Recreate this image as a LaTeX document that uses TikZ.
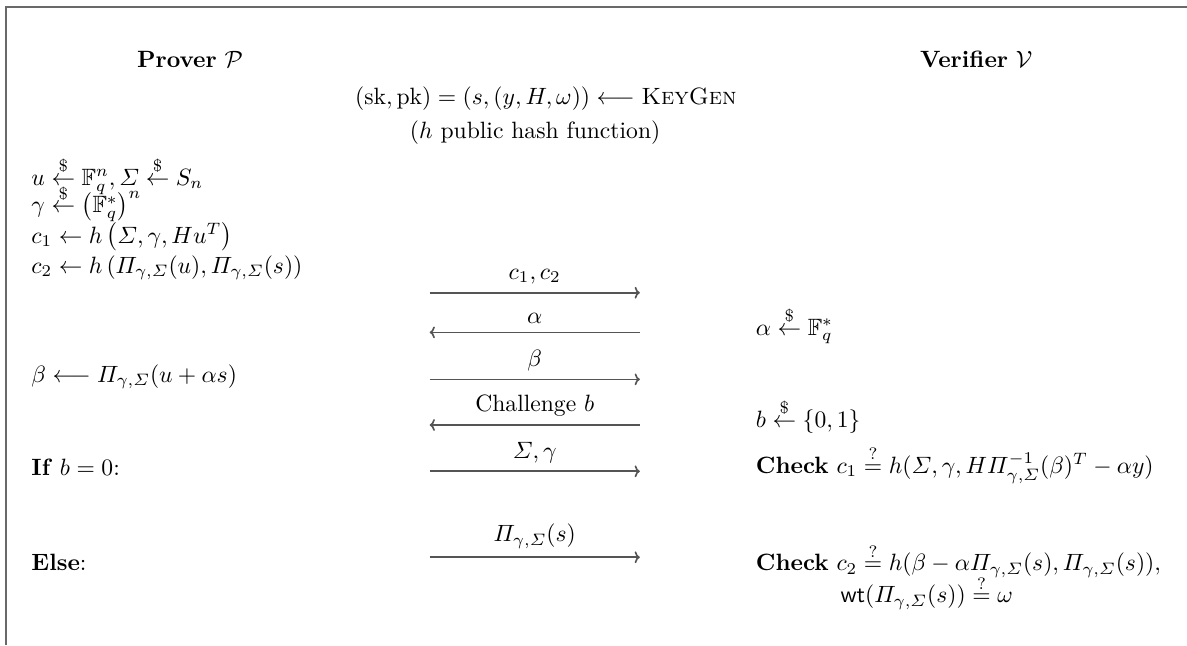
\documentclass[tikz,border=0pt]{standalone}
\usepackage{amsmath,amssymb}
\usepackage{xcolor}
\usepackage{tikz}
\usetikzlibrary{arrows.meta,positioning}
\definecolor{proto@gray}{RGB}{85,85,85}
\definecolor{proto@frame}{RGB}{105,105,105}
\tikzset{
  proto/.style={
    >={To[length=2.2pt,width=5pt]},
    line width=0.5pt,
    every node/.style={font=\normalsize}
  },
  party/.style={anchor=base, inner sep=0pt},        % column heading
  lstep/.style={anchor=base west, inner sep=0pt},   % prover side
  rstep/.style={anchor=base west, inner sep=0pt},   % verifier side
  setup/.style={anchor=base, inner sep=0pt},
  msg/.style={->, line width=0.7pt, draw=proto@gray},
  framerule/.style={line width=0.9pt, draw=proto@frame}
}
\newcommand{\sampled}{\overset{\$}{\leftarrow}}
\newcommand{\qeq}{\overset{?}{=}}
\newcommand{\Pgs}{\varPi_{\gamma,\varSigma}}

\begin{document}
\begin{tikzpicture}[proto]
\useasboundingbox (0,0) rectangle (17.68,-9.61);

% Frame (top and left rules)
\coordinate (fbl) at (0.09,-9.61);
\coordinate (ftl) at (0.09,-0.10);
\coordinate (ftr) at (17.68,-0.10);
\draw[framerule] (fbl) -- (ftl) -- (ftr);

% Headings
\node[party] (prover) at (2.83,-1.01) {\textbf{Prover} $\mathcal{P}$};
\node[party] (verifier) at (14.54,-1.01) {\textbf{Verifier} $\mathcal{V}$};

% Public setup
\node[setup] (keygen) at (8.13,-1.56)
  {$(\mathrm{sk},\mathrm{pk}) = (s,(y,H,\omega)) \longleftarrow \textsc{KeyGen}$};
\node[setup] (hashfn) at (7.97,-2.06) {($h$ public hash function)};

% Prover side
\node[lstep] (pu) at (0.46,-2.76) {$u \sampled \mathbb{F}_q^n, \varSigma \sampled S_n$};
\node[lstep] (pg) at (0.46,-3.17) {$\gamma \sampled \left(\mathbb{F}_q^*\right)^n$};
\node[lstep] (pc1) at (0.46,-3.62) {$c_1 \leftarrow h\left(\varSigma,\gamma,Hu^T\right)$};
\node[lstep] (pc2) at (0.46,-4.07) {$c_2 \leftarrow h\left(\Pgs(u),\Pgs(s)\right)$};
\node[lstep] (pbeta) at (0.46,-5.69) {$\beta \longleftarrow \Pgs(u+\alpha s)$};
\node[lstep] (pif) at (0.46,-7.08) {\textbf{If} $b=0$:};
\node[lstep] (pelse) at (0.46,-8.50) {\textbf{Else}:};

% Verifier side
\node[rstep] (valpha) at (11.25,-4.99) {$\alpha \sampled \mathbb{F}_q^*$};
\node[rstep] (vb) at (11.25,-6.36) {$b \sampled \{0,1\}$};
\node[rstep] (vchk1) at (11.25,-7.05)
  {\textbf{Check} $c_1 \qeq h(\varSigma,\gamma,H\varPi_{\gamma,\varSigma}^{-1}(\beta)^T-\alpha y)$};
\node[rstep] (vchk2) at (11.25,-8.50)
  {\textbf{Check} $c_2 \qeq h(\beta-\alpha\Pgs(s),\Pgs(s)),$};
\node[rstep] (vwt) at (12.51,-8.98) {$\mathsf{wt}(\Pgs(s)) \qeq \omega$};

% Message ends
\coordinate (m1l) at (6.40,-4.36); \coordinate (m1r) at (9.53,-4.36);
\coordinate (m2l) at (6.40,-4.95); \coordinate (m2r) at (9.53,-4.95);
\coordinate (m3l) at (6.40,-5.65); \coordinate (m3r) at (9.53,-5.65);
\coordinate (m4l) at (6.40,-6.33); \coordinate (m4r) at (9.53,-6.33);
\coordinate (m5l) at (6.40,-7.02); \coordinate (m5r) at (9.53,-7.02);
\coordinate (m6l) at (6.40,-8.30); \coordinate (m6r) at (9.53,-8.30);

% Messages
\draw[msg] (m1l) -- node[above] {$c_1,c_2$} (m1r);
\draw[msg] (m2r) -- node[above] {$\alpha$} (m2l);
\draw[msg] (m3l) -- node[above] {$\beta$} (m3r);
\draw[msg] (m4r) -- node[above] {Challenge $b$} (m4l);
\draw[msg] (m5l) -- node[above] {$\varSigma,\gamma$} (m5r);
\draw[msg] (m6l) -- node[above] {$\Pgs(s)$} (m6r);

\end{tikzpicture}
\end{document}
